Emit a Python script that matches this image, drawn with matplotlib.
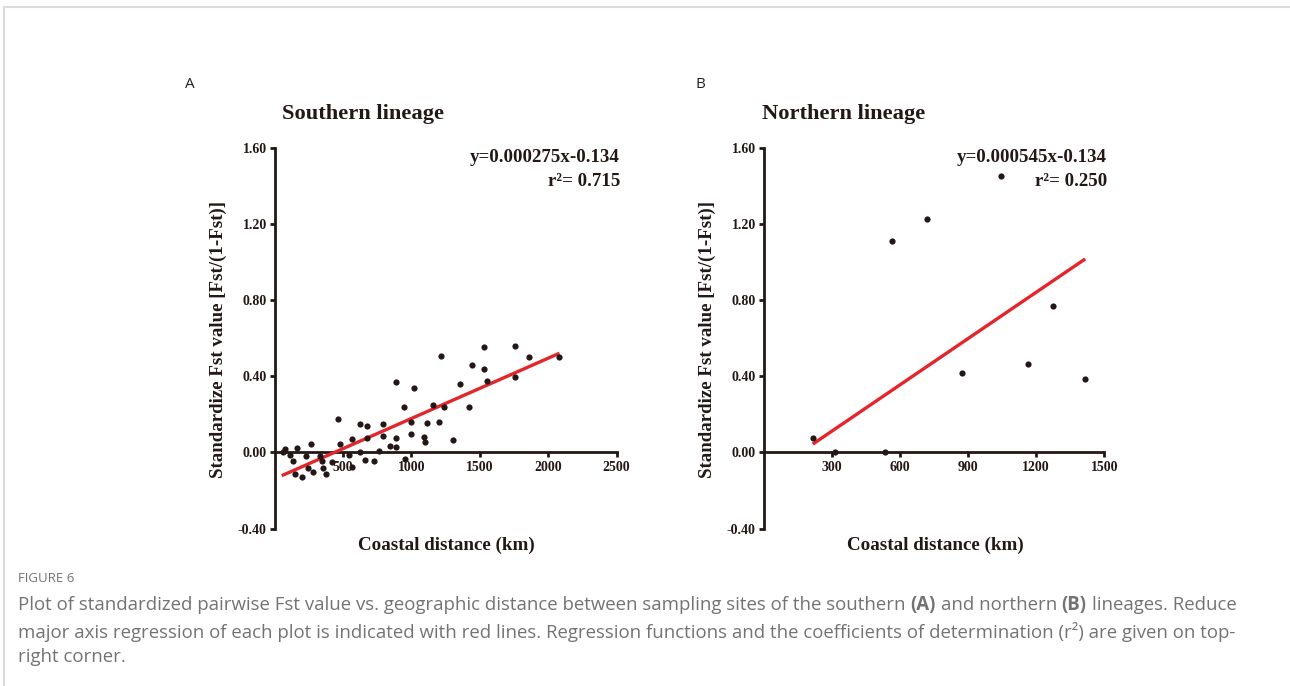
import matplotlib
matplotlib.use("Agg")
import matplotlib.pyplot as plt
from matplotlib.lines import Line2D

# ---------------- data ----------------
south_dist = [60, 75, 114, 133, 150, 168, 204, 231, 244, 268, 285, 334, 346, 353, 378,
              422, 461, 481, 544, 564, 569, 623, 625, 664, 677, 677, 730, 765, 796, 796,
              843, 885, 885, 890, 948, 951, 995, 995, 1019, 1092, 1100, 1117, 1159, 1203,
              1215, 1242, 1303, 1357, 1423, 1443, 1533, 1533, 1555, 1756, 1756, 1859, 2081]
south_fst = [0.000, 0.017, -0.012, -0.047, -0.113, 0.023, -0.129, -0.021, -0.082, 0.045,
             -0.103, -0.021, -0.047, -0.082, -0.115, -0.049, 0.174, 0.044, -0.012, 0.070,
             -0.078, 0.002, 0.148, -0.038, 0.138, 0.075, -0.045, 0.010, 0.150, 0.089,
             0.035, 0.031, 0.078, 0.371, 0.240, -0.035, 0.162, 0.097, 0.341, 0.080,
             0.057, 0.157, 0.249, 0.160, 0.510, 0.240, 0.063, 0.362, 0.240, 0.461,
             0.557, 0.440, 0.374, 0.559, 0.395, 0.501, 0.500]
north_dist = [220, 315, 535, 564, 720, 872, 1044, 1163, 1273, 1413]
north_fst = [0.074, 0.002, 0.002, 1.113, 1.230, 0.417, 1.456, 0.464, 0.768, 0.386]

south_line_x = [53, 2083]
south_line_y = [-0.122, 0.522]
north_line_x = [217, 1416]
north_line_y = [0.044, 1.018]

y_ticks = [-0.40, 0.00, 0.40, 0.80, 1.20, 1.60]
south_xticks = [500, 1000, 1500, 2000, 2500]
north_xticks = [300, 600, 900, 1200, 1500]

titles = ["Southern lineage", "Northern lineage"]
equations = ["y=0.000275x-0.134", "y=0.000545x-0.134"]
r2_texts = ["r\u00b2= 0.715", "r\u00b2= 0.250"]
panel_letters = ["A", "B"]
x_label = "Coastal distance (km)"
y_label = "Standardize Fst value [Fst/(1-Fst)]"

# ---------------- style ----------------
INK = "#231815"
RED = "#e3262b"
GREY = "#737373"
SERIF = "Liberation Serif"
SANS = "Open Sans"

W, H = 1290, 686
fig = plt.figure(figsize=(W / 100, H / 100), dpi=100)
fig.patch.set_facecolor("white")

# card border
fig.add_artist(Line2D([4 / W, 1.0], [1 - 7 / H, 1 - 7 / H], color="#dcdcdc", lw=1.5))
fig.add_artist(Line2D([4 / W, 4 / W], [0, 1 - 7 / H], color="#dcdcdc", lw=1.5))

panels = [
    dict(left=274.5, right=616.5, xmax=2500, xticks=south_xticks,
         x=south_dist, y=south_fst, lx=south_line_x, ly=south_line_y,
         letter_x=190, title_x=363, ylabel_x=218, eq_x=620),
    dict(left=763.5, right=1104.3, xmax=1500, xticks=north_xticks,
         x=north_dist, y=north_fst, lx=north_line_x, ly=north_line_y,
         letter_x=700, title_x=844, ylabel_x=707, eq_x=1107),
]

top_px, bot_px = 148.3, 528.5

for i, p in enumerate(panels):
    ax = fig.add_axes([p["left"] / W, 1 - bot_px / H,
                       (p["right"] - p["left"]) / W, (bot_px - top_px) / H])
    ax.set_facecolor("none")
    ax.set_xlim(0, p["xmax"])
    ax.set_ylim(-0.40, 1.60)
    for s in ("top", "right"):
        ax.spines[s].set_visible(False)
    ax.spines["bottom"].set_position(("data", 0))
    for s in ("left", "bottom"):
        ax.spines[s].set_linewidth(2.0)
        ax.spines[s].set_color(INK)
    ax.set_yticks(y_ticks)
    ax.set_yticklabels([f"{v:.2f}" for v in y_ticks])
    ax.set_xticks(p["xticks"])
    ax.set_xticklabels([str(v) for v in p["xticks"]])
    ax.tick_params(axis="both", direction="out", length=3.5, width=2.0, color=INK,
                   labelcolor=INK, labelsize=10, pad=2)
    ax.tick_params(axis="x", pad=3)
    for lab in ax.get_xticklabels() + ax.get_yticklabels():
        lab.set_fontfamily(SERIF)
        lab.set_fontweight("bold")

    ax.plot(p["lx"], p["ly"], color=RED, lw=2.4, zorder=4, solid_capstyle="butt")
    ax.scatter(p["x"], p["y"], s=20, color=INK, zorder=5, clip_on=False, linewidths=0)

    fig.text(p["eq_x"] / W, 1 - 158 / H, equations[i], ha="right", va="center",
             family=SERIF, fontweight="bold", fontsize=13.6, color=INK)
    fig.text(p["eq_x"] / W, 1 - 181 / H, r2_texts[i], ha="right", va="center",
             family=SERIF, fontweight="bold", fontsize=13.6, color=INK)

    fig.text(p["title_x"] / W, 1 - 114 / H, titles[i], ha="center", va="center",
             family=SERIF, fontweight="bold", fontsize=16.2, color=INK)
    fig.text(p["letter_x"] / W, 1 - 84 / H, panel_letters[i], ha="center", va="center",
             family=SANS, fontsize=11, color="#222222")
    fig.text(p["ylabel_x"] / W, 1 - 339 / H, y_label, ha="center", va="center",
             rotation=90, family=SERIF, fontweight="bold", fontsize=13.6, color=INK)
    fig.text(((p["left"] + p["right"]) / 2 + 1) / W, 1 - 545 / H, x_label,
             ha="center", va="center", family=SERIF, fontweight="bold",
             fontsize=13.7, color=INK)

# ---------------- caption ----------------
renderer = fig.canvas.get_renderer()


def text_w(s, **kw):
    t = fig.text(0, 0, s, **kw)
    w = t.get_window_extent(renderer).width
    t.remove()
    return w


def rich_line(x_px, y_px, parts, size):
    base = dict(family=SANS, fontsize=size, color=GREY)
    sp = text_w("a a", **base) - text_w("aa", **base)
    x = x_px
    for txt, weight in parts:
        lead = len(txt) - len(txt.lstrip(" "))
        trail = len(txt) - len(txt.rstrip(" "))
        core = txt.strip(" ")
        x += lead * sp
        t = fig.text(x / W, 1 - y_px / H, core, ha="left", va="center",
                     fontweight=weight, **base)
        x += t.get_window_extent(renderer).width + trail * sp


fig.text(18 / W, 1 - 578 / H, "FIGURE 6", ha="left", va="center", family=SANS,
         fontsize=9.5, color=GREY)
cap_size = 13.4
rich_line(18, 605, [("Plot of standardized pairwise Fst value vs. geographic distance between "
                     "sampling sites of the southern ", "normal"), ("(A)", "bold"),
                    (" and northern ", "normal"), ("(B)", "bold"),
                    (" lineages. Reduce", "normal")], cap_size)
rich_line(18, 632, [("major axis regression of each plot is indicated with red lines. "
                     "Regression functions and the coefficients of determination (r\u00b2) "
                     "are given on top-", "normal")], cap_size)
rich_line(18, 657, [("right corner.", "normal")], cap_size)

fig.savefig("out.png", dpi=100, facecolor="white")
